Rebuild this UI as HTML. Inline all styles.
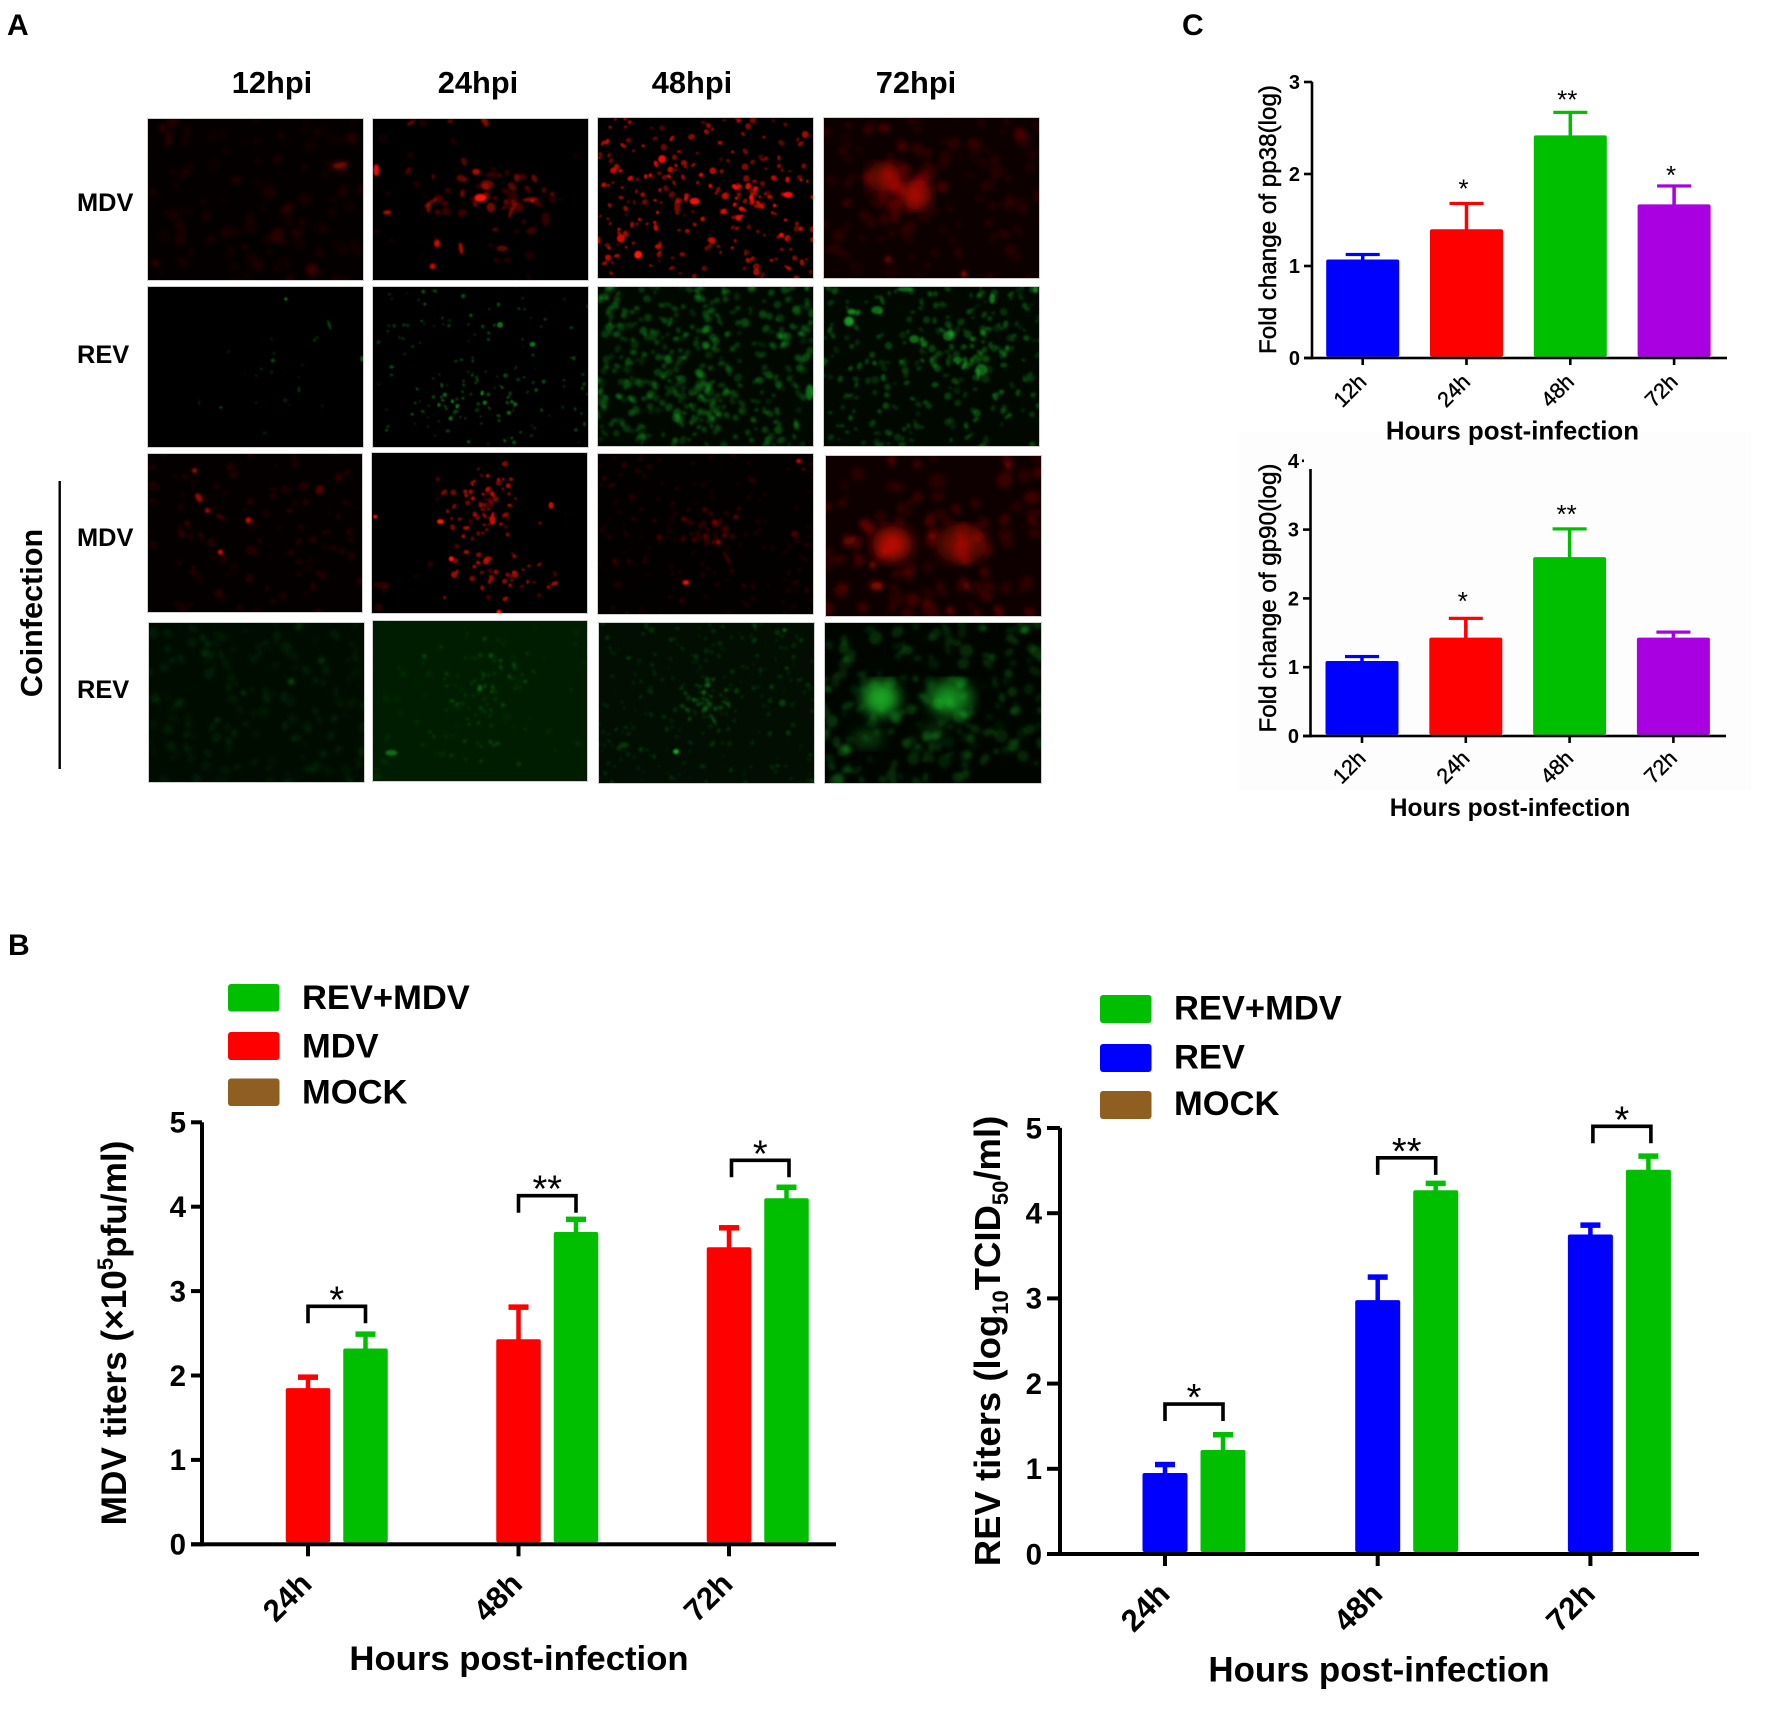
<!DOCTYPE html>
<html lang="en">
<head>
<meta charset="utf-8">
<title>Figure: MDV and REV coinfection</title>
<style>
html,body{margin:0;padding:0;background:#fff;}
svg{display:block;font-family:"Liberation Sans",sans-serif;}
</style>
</head>
<body>
<svg id="fig" xmlns="http://www.w3.org/2000/svg" width="1772" height="1727" viewBox="0 0 1772 1727">
  <rect width="1772" height="1727" fill="#fff"/>
  <rect x="1237" y="432" width="514" height="358" fill="#fdfdfd"/>

  <text x="7" y="35" font-size="30" font-weight="700">A</text>
  <text x="8" y="955" font-size="30" font-weight="700">B</text>
  <text x="1182" y="35" font-size="30" font-weight="700">C</text>

  <g id="micro"></g>

  <text x="272" y="93" font-size="30.8" font-weight="700" text-anchor="middle">12hpi</text>
  <text x="478" y="93" font-size="30.8" font-weight="700" text-anchor="middle">24hpi</text>
  <text x="692" y="93" font-size="30.8" font-weight="700" text-anchor="middle">48hpi</text>
  <text x="916" y="93" font-size="30.8" font-weight="700" text-anchor="middle">72hpi</text>
  <text x="77" y="211" font-size="25.4" font-weight="700">MDV</text>
  <text x="77" y="363" font-size="25.4" font-weight="700">REV</text>
  <text x="77" y="546" font-size="25.4" font-weight="700">MDV</text>
  <text x="77" y="698" font-size="25.4" font-weight="700">REV</text>
  <text transform="translate(42,613) rotate(-90)" font-size="30.6" font-weight="700" text-anchor="middle">Coinfection</text>
  <rect x="58.5" y="481" width="2.4" height="288" fill="#000"/>

  <g id="chart-mdv"></g>
  <g id="chart-rev"></g>
  <g id="chart-pp38"></g>
  <g id="chart-gp90"></g>

  <!-- B left legend and titles -->
  <g>
    <rect x="228" y="984" width="51.5" height="27.5" rx="3" fill="#00bf00"/>
    <text x="302" y="1009" font-size="34.5" font-weight="700">REV+MDV</text>
    <rect x="228" y="1032" width="51.5" height="28" rx="3" fill="#ff0000"/>
    <text x="302" y="1057.5" font-size="34.5" font-weight="700">MDV</text>
    <rect x="228" y="1078.5" width="51.5" height="27.5" rx="3" fill="#8e5f20"/>
    <text x="302" y="1103.5" font-size="34.5" font-weight="700">MOCK</text>
  </g>
  <text transform="translate(126,1333) rotate(-90)" font-size="35.2" font-weight="700" text-anchor="middle">MDV titers (×10<tspan font-size="22" dy="-13">5</tspan><tspan dy="13">pfu/ml)</tspan></text>
  <text x="519" y="1670" font-size="34.7" font-weight="700" text-anchor="middle">Hours post-infection</text>

  <!-- B right legend and titles -->
  <g>
    <rect x="1100" y="995" width="51.5" height="28" rx="3" fill="#00bf00"/>
    <text x="1174" y="1019.7" font-size="34.5" font-weight="700">REV+MDV</text>
    <rect x="1100" y="1044" width="51.5" height="28" rx="3" fill="#0000ff"/>
    <text x="1174" y="1068.6" font-size="34.5" font-weight="700">REV</text>
    <rect x="1100" y="1091" width="51.5" height="28" rx="3" fill="#8e5f20"/>
    <text x="1174" y="1115" font-size="34.5" font-weight="700">MOCK</text>
  </g>
  <text transform="translate(1000,1341) rotate(-90)" font-size="36.5" font-weight="700" text-anchor="middle">REV titers (log<tspan font-size="22" dy="8">10</tspan><tspan dy="-8">TCID</tspan><tspan font-size="22" dy="8">50</tspan><tspan dy="-8">/ml)</tspan></text>
  <text x="1379" y="1681.6" font-size="34.9" font-weight="700" text-anchor="middle">Hours post-infection</text>

  <!-- C titles -->
  <text transform="translate(1276,219.5) rotate(-90)" font-size="24.2" text-anchor="middle" stroke="#000" stroke-width="0.5">Fold change of pp38(log)</text>
  <text x="1512.5" y="439.5" font-size="25.9" font-weight="700" text-anchor="middle">Hours post-infection</text>
  <text transform="translate(1276,598) rotate(-90)" font-size="24.2" text-anchor="middle" stroke="#000" stroke-width="0.5">Fold change of gp90(log)</text>
  <text x="1510" y="816" font-size="24.6" font-weight="700" text-anchor="middle">Hours post-infection</text>
</svg>

<script>
/* ---------- chart data ---------- */
const titerCategories = ['24h', '48h', '72h'];
const mdvSingleValues = [1.85, 2.43, 3.52];
const mdvSingleHigh = [1.98, 2.81, 3.75];
const mdvCoinfValues = [2.32, 3.70, 4.10];
const mdvCoinfHigh = [2.49, 3.85, 4.23];
const mdvSigLabels = ['*', '**', '*'];
const mdvBracketLevels = [2.82, 4.13, 4.55];
const mdvTicks = [0, 1, 2, 3, 4, 5];

const revSingleValues = [0.95, 2.98, 3.75];
const revSingleHigh = [1.05, 3.25, 3.86];
const revCoinfValues = [1.22, 4.27, 4.51];
const revCoinfHigh = [1.40, 4.35, 4.67];
const revSigLabels = ['*', '**', '*'];
const revBracketLevels = [1.76, 4.65, 5.02];
const revTicks = [0, 1, 2, 3, 4, 5];

const foldCategories = ['12h', '24h', '48h', '72h'];
const pp38Values = [1.07, 1.40, 2.42, 1.67];
const pp38High = [1.125, 1.68, 2.67, 1.87];
const pp38SigLabels = ['', '*', '**', '*'];
const pp38SigLevels = [0, 1.90, 2.87, 2.05];
const pp38Ticks = [0, 1, 2, 3];

const gp90Values = [1.09, 1.43, 2.60, 1.43];
const gp90High = [1.155, 1.71, 3.01, 1.51];
const gp90SigLabels = ['', '*', '**', ''];
const gp90SigLevels = [0, 2.04, 3.31, 0];
const gp90Ticks = [0, 1, 2, 3, 4];

/* ---------- helpers ---------- */
const NS = 'http://www.w3.org/2000/svg';
function mk(tag, attrs, parent) {
  const el = document.createElementNS(NS, tag);
  for (const k in attrs) el.setAttribute(k, attrs[k]);
  parent.appendChild(el);
  return el;
}
function yAxisScale(frame) {
  return v => frame.y0 - v * frame.unit;
}
function xAxisScale(frame) {
  return i => frame.x0 + i * frame.step;
}
function drawAxes(g, frame, ticks, cats) {
  const y = yAxisScale(frame), x = xAxisScale(frame);
  const yAxis = mk('rect', {x: frame.axisX - frame.lw / 2, y: frame.axisTop, width: frame.lw, height: frame.y0 - frame.axisTop + frame.lw / 2, fill: '#000'}, g);
  
  
  const xAxis = mk('rect', {x: frame.tickLeft, y: frame.y0 - frame.lw / 2, width: frame.axisEnd - frame.tickLeft, height: frame.lw, fill: '#000'}, g);
  
  
  ticks.forEach(t => {
    const ty = y(t);
    const clipped = ty < frame.axisTop - 1;
    const tick = mk('rect', {x: clipped ? frame.tickLeft - 1 : frame.tickLeft, y: ty - frame.lw / 2, width: clipped ? 2 : frame.axisX - frame.tickLeft, height: frame.lw, fill: '#000'}, g);
    
    
    const lab = mk('text', {x: frame.tickLeft - frame.tickGap, y: ty + frame.tickFont * 0.35, 'font-size': frame.tickFont, 'font-weight': 700, 'text-anchor': 'end'}, g);
    lab.textContent = t;
    
    
  });
  cats.forEach((c, i) => {
    const tx = x(i);
    const tick = mk('rect', {x: tx - frame.lw / 2, y: frame.y0, width: frame.lw, height: frame.tickDown, fill: '#000'}, g);
    
    
    const cx = tx + frame.catDx, cy = frame.y0 + frame.catDy;
    const lab = mk('text', {x: cx, y: cy + frame.catFont * 0.35, 'font-size': frame.catFont, 'font-weight': frame.catWeight, 'text-anchor': 'middle', stroke: '#000', 'stroke-width': frame.catStroke, transform: 'rotate(-45 ' + cx + ' ' + cy + ')'}, g);
    lab.textContent = c;
    
    
  });
}
function drawBar(g, frame, cx, value, high, color, label) {
  const y = yAxisScale(frame);
  const stem = mk('rect', {x: cx - frame.stem / 2, y: y(high), width: frame.stem, height: y(value) - y(high) + 1, fill: color}, g);
  
  
  const cap = mk('rect', {x: cx - frame.capW / 2, y: y(high) - frame.capH / 2, width: frame.capW, height: frame.capH, fill: color}, g);
  
  
  const bar = mk('rect', {x: cx - frame.barW / 2, y: y(value), width: frame.barW, height: frame.y0 - y(value) - frame.lw / 2, rx: 2, fill: color}, g);
  
  
}
function drawGrouped(id, frame, ticks, cats, sVals, sHigh, sColor, sName, cVals, cHigh, sig, levels) {
  const g = document.getElementById(id);
  const x = xAxisScale(frame), y = yAxisScale(frame);
  cats.forEach((c, i) => {
    drawBar(g, frame, x(i), sVals[i], sHigh[i], sColor, sName + '-' + c);
    drawBar(g, frame, x(i) + frame.offset, cVals[i], cHigh[i], '#00bf00', 'coinfection-' + c);
    const shift = i === cats.length - 1 ? 2.5 : 0;
    const top = y(levels[i]), l = x(i) + shift, r = x(i) + frame.offset + shift;
    const br = mk('path', {d: 'M' + l + ' ' + (top + 17) + 'V' + top + 'H' + r + 'V' + (top + 17), fill: 'none', stroke: '#000', 'stroke-width': 3.6}, g);
    
    
    const st = mk('text', {x: (l + r) / 2, y: top + 6, 'font-size': 38, 'text-anchor': 'middle'}, g);
    st.textContent = sig[i];
    
    
  });
  drawAxes(g, frame, ticks, cats);
}
function drawFold(id, frame, ticks, cats, vals, high, colors, sig, levels) {
  const g = document.getElementById(id);
  const x = xAxisScale(frame), y = yAxisScale(frame);
  cats.forEach((c, i) => {
    drawBar(g, frame, x(i), vals[i], high[i], colors[i], c);
    if (sig[i]) {
      const st = mk('text', {x: x(i) - 3, y: y(levels[i]) + 14.5, 'font-size': 26, 'text-anchor': 'middle'}, g);
      st.textContent = sig[i];
      
      
    }
  });
  drawAxes(g, frame, ticks, cats);
}

const bigStyle = {stem: 4.5, capW: 20, capH: 5.5, lw: 4, tickGap: 5, tickFont: 29.5, tickDown: 12, catFont: 31, catWeight: 700, catStroke: 0};
drawGrouped('chart-mdv', Object.assign({x0: 308, step: 210.5, offset: 57.5, barW: 44.5, axisX: 202, y0: 1544.3, unit: 84.4, axisTop: 1122.3, tickLeft: 191, axisEnd: 836, catDx: -21, catDy: 52.7}, bigStyle),
  mdvTicks, titerCategories, mdvSingleValues, mdvSingleHigh, '#ff0000', 'mdv', mdvCoinfValues, mdvCoinfHigh, mdvSigLabels, mdvBracketLevels);
drawGrouped('chart-rev', Object.assign({x0: 1165, step: 212.7, offset: 58, barW: 45, axisX: 1060, y0: 1554, unit: 85.2, axisTop: 1127.8, tickLeft: 1047, axisEnd: 1699, catDx: -20, catDy: 53}, bigStyle),
  revTicks, titerCategories, revSingleValues, revSingleHigh, '#0000ff', 'rev', revCoinfValues, revCoinfHigh, revSigLabels, revBracketLevels);

const smallStyle = {stem: 3.5, capW: 34, capH: 3.2, lw: 2.6, tickGap: 4, tickFont: 20, tickDown: 7, catFont: 21.5, catWeight: 400, catStroke: 0.4, catDx: -13, barW: 73, step: 103.8};
const foldColors = ['#0000ff', '#ff0000', '#00bf00', '#a800e0'];
drawFold('chart-pp38', Object.assign({x0: 1362.7, axisX: 1312, y0: 358, unit: 92, axisTop: 81.7, tickLeft: 1304, axisEnd: 1727, catDy: 32.5}, smallStyle),
  pp38Ticks, foldCategories, pp38Values, pp38High, foldColors, pp38SigLabels, pp38SigLevels);
drawFold('chart-gp90', Object.assign({x0: 1362, axisX: 1310.5, y0: 736, unit: 68.8, axisTop: 469, tickLeft: 1303, axisEnd: 1726, catDy: 31}, smallStyle),
  gp90Ticks, foldCategories, gp90Values, gp90High, foldColors, gp90SigLabels, gp90SigLevels);

/* ---------- fluorescence micrographs (decorative texture, not data) ---------- */
function seeded(a) {
  return function () {
    a |= 0; a = a + 0x6D2B79F5 | 0;
    let t = Math.imul(a ^ a >>> 15, 1 | a);
    t = t + Math.imul(t ^ t >>> 7, 61 | t) ^ t;
    return ((t ^ t >>> 14) >>> 0) / 4294967296;
  };
}
const RED = '#ff1208', GREEN = '#24e034';
/* layers: [count, cx, cy, sx, sy, radius, alpha]; cx null = uniform. spots: [fx, fy, rx, ry, rot, alpha]. rx >= 9 goes to the soft glow group */
const micrographs = [
 {n:'mdv-12hpi', x:147, y:118, w:217, h:163, c:RED, bg:'#040000', b:2,
  layers:[[110,null,0,0,0,5,.075]],
  spots:[[.89,.29,8,3,-10,.5],[.1,.13,3,8,10,.16],[.07,.06,2.5,2.5,0,.25],[.76,.93,6,6,0,.22],[.42,.38,3,3,0,.14],[.65,.55,7,4,-25,.14],[.6,.72,6,8,30,.15],[.45,.79,2,2,0,.25],[.04,.89,4,3,0,.2]]},
 {n:'mdv-24hpi', x:372, y:118, w:217, h:163, c:RED, bg:'#000', b:1,
  layers:[[40,.55,.47,.2,.12,4,.36],[25,null,0,0,0,3.5,.12]],
  spots:[[.02,.32,3,6,0,.9],[.5,.49,6,4,0,1],[.48,.33,4,3,0,.7],[.07,.58,4,2,0,.75],[.3,.77,3,4,0,.8],[.41,.8,2,6,-10,.7],[.28,.91,3,3,0,.8],[.6,.8,6,3,0,.35],[.55,.35,6,3,0,.2],[.73,.5,8,2,-5,.55],[.74,.51,1.5,1.5,0,1],[.53,.41,7,5,0,.35],[.52,.02,3,6,-30,.5],[.18,.03,5,2,-30,.35],[.36,.02,3,2,0,.35],[.27,.52,8,2,-35,.4],[.26,.55,2,5,0,.5],[.64,.58,2,6,20,.4],[.8,.62,4,7,0,.2]]},
 {n:'mdv-48hpi', x:597, y:117, w:217, h:162, c:RED, bg:'#000', b:.8,
  layers:[[190,null,0,0,0,2.5,.62],[40,.7,.5,.12,.08,2.4,.8],[25,.3,.45,.16,.12,2.4,.75]],
  spots:[[.19,.85,4,4,0,1],[.45,.52,5,3.5,0,.95],[.3,.26,4,4,0,.9],[.88,.48,5,3,0,.95],[.11,.75,4,4,0,.8],[.37,.55,3,9,0,.45],[.85,.73,2.5,2.5,0,.95]]},
 {n:'mdv-72hpi', x:823, y:117, w:217, h:162, c:RED, bg:'#0c0000', b:2.2,
  layers:[[120,null,0,0,0,5.5,.1],[30,.36,.42,.12,.14,7,.14]],
  spots:[[.28,.37,17,15,0,.38],[.43,.48,16,15,0,.48],[.3,.38,9,8,0,.22],[.43,.49,9,8,0,.28],[.65,.97,2.5,3,0,.75],[.3,.88,4,4,0,.32],[.28,.07,6,5,0,.2],[.11,.53,5,4,0,.18]]},

 {n:'rev-12hpi', x:147, y:286, w:217, h:162, c:GREEN, bg:'#000', b:.8,
  layers:[[16,.62,.45,.2,.25,1.5,.14]],
  spots:[[.64,.08,1.6,1.6,0,.5],[.84,.24,1.5,5,-20,.28],[.58,.46,2,2,0,.3],[.99,.45,1.5,3,0,.4],[.34,.75,1.2,1.2,0,.45],[.7,.64,1.5,3,0,.2],[.24,.72,1,3,0,.14]]},
 {n:'rev-24hpi', x:372, y:286, w:217, h:162, c:GREEN, bg:'#000', b:.7,
  layers:[[120,null,0,0,0,1.6,.3],[45,.52,.72,.2,.13,1.7,.38]],
  spots:[[.59,.24,3,3,0,.5],[.74,.36,3,2.5,0,.5],[.52,.72,2.2,2.2,0,.5],[.66,.73,2.2,2.2,0,.4],[.09,.5,2.5,1.5,0,.35]]},
 {n:'rev-48hpi', x:597, y:286, w:217, h:161, c:GREEN, bg:'#000800', b:1.3,
  layers:[[400,null,0,0,0,3.3,.24],[45,.5,.72,.16,.1,3.2,.26]],
  spots:[[.98,.66,4,8,0,.45],[.33,.46,4,4,0,.35],[.09,.3,4,3,0,.3],[.36,.96,3,3,0,.35]]},
 {n:'rev-72hpi', x:823, y:286, w:217, h:161, c:GREEN, bg:'#000800', b:1.1,
  layers:[[250,null,0,0,0,3,.24],[45,.65,.42,.18,.16,3.2,.3]],
  spots:[[.12,.22,5,5,0,.6],[.13,.16,4,3,0,.55],[.25,.15,6,4,0,.45],[.42,.33,5,4,0,.45],[.58,.31,6,5,0,.42],[.62,.46,5,3,0,.42],[.73,.52,6,6,0,.42],[.78,.08,3,5,0,.5],[.38,.02,8,2.5,0,.45],[.98,.02,2.5,4,0,.55]]},

 {n:'coinfection-mdv-12hpi', x:147, y:453, w:216, h:160, c:RED, bg:'#040000', b:1.4,
  layers:[[100,null,0,0,0,3.6,.1]],
  spots:[[.24,.28,3,5,-30,.6],[.28,.36,2.5,2.5,0,.7],[.47,.42,3,3,0,.8],[.34,.62,2.5,2.5,0,.95],[.22,.11,2.5,2.5,0,.65],[.8,.23,4,5,30,.3],[.66,.36,3,2,0,.18],[.34,.4,5,2,30,.25],[.25,.52,1.5,5,-20,.18]]},
 {n:'coinfection-mdv-24hpi', x:371, y:452, w:217, h:162, c:RED, bg:'#010000', b:.8,
  layers:[[75,.53,.34,.15,.16,2.3,.58],[35,.6,.76,.18,.1,2.5,.55],[8,null,0,0,0,3,.12]],
  spots:[[.02,.4,2,2,0,.9],[.32,.43,3.5,2.5,0,1],[.37,.66,2.5,2.5,0,1],[.54,.66,4,2.5,0,.6],[.05,.82,8,3.5,0,.15],[.59,.99,2.5,2.5,0,1],[.56,.42,3,5,0,.8],[.83,.33,2.5,3.5,0,.8]]},
 {n:'coinfection-mdv-48hpi', x:597, y:453, w:217, h:162, c:RED, bg:'#030000', b:1.2,
  layers:[[170,null,0,0,0,2.4,.13],[40,.5,.47,.13,.08,2.6,.25]],
  spots:[[.41,.8,3.5,2.5,0,1],[.93,.05,2.5,2,0,.9],[.95,.1,1.5,1.2,0,.55],[.56,.55,2.5,2.5,0,.5],[.6,.65,1.5,8,-30,.28],[.91,.5,3.5,3.5,0,.28]]},
 {n:'coinfection-mdv-72hpi', x:825, y:455, w:217, h:162, c:RED, bg:'#0e0000', b:2.2,
  layers:[[110,null,0,0,0,6,.17]],
  spots:[[.31,.55,20,18,0,.5],[.31,.55,10,9,0,.55],[.63,.55,26,20,0,.32],[.63,.55,10,8,0,.28],[.24,.81,6,4,0,.45],[.22,.68,4,4,0,.32]]},

 {n:'coinfection-rev-12hpi', x:148, y:622, w:217, h:161, c:GREEN, bg:'#010c01', b:1.8,
  layers:[[160,null,0,0,0,4,.075]],
  spots:[[.66,.37,3.5,3.5,0,.25],[.8,.24,4,4,0,.13],[.44,.44,3,2.5,0,.16],[.32,.61,2.5,2.5,0,.2]]},
 {n:'coinfection-rev-24hpi', x:372, y:620, w:216, h:162, c:GREEN, bg:'#011d01', b:1.1,
  layers:[[90,.5,.45,.17,.28,2.1,.15],[40,null,0,0,0,3.5,.05]],
  spots:[[.09,.82,6,3,0,.4],[.5,.42,2.5,3.5,0,.3],[.55,.22,2.5,2.5,0,.22],[.71,.38,1.6,1.6,0,.28]]},
 {n:'coinfection-rev-48hpi', x:598, y:622, w:217, h:162, c:GREEN, bg:'#010e01', b:1.1,
  layers:[[250,null,0,0,0,2.1,.12],[40,.5,.47,.09,.08,2.2,.25]],
  spots:[[.36,.8,3,2.5,0,.75],[.86,.05,2,1.6,0,.45],[.53,.6,1.3,7,-30,.28],[.85,.5,3.5,3.5,0,.22],[.8,.4,2,2.5,0,.22],[.12,.76,5,3,0,.18]]},
 {n:'coinfection-rev-72hpi', x:824, y:622, w:218, h:162, c:GREEN, bg:'#000500', b:1.8,
  layers:[[170,null,0,0,0,5,.17],[30,.62,.6,.18,.22,4.5,.12]],
  spots:[[.26,.47,19,18,0,.62],[.26,.47,10,11,0,.35],[.58,.47,23,18,0,.48],[.57,.47,9,8,0,.4],[.92,.05,4,4,0,.35],[.2,.72,16,9,0,.25],[.5,.68,12,9,0,.18]]}
];

function gauss(r) { return (r() + r() + r() + r() - 2) / 0.816; }
const micro = document.getElementById('micro');
const defs = mk('defs', {}, micro);
micrographs.forEach((m, idx) => {
  const f = mk('filter', {id: 'blur' + idx, x: '-5%', y: '-5%', width: '110%', height: '110%'}, defs);
  mk('feGaussianBlur', {stdDeviation: m.b}, f);
  const f2 = mk('filter', {id: 'glow' + idx, x: '-5%', y: '-5%', width: '110%', height: '110%'}, defs);
  mk('feGaussianBlur', {stdDeviation: 6.5}, f2);
  const s = mk('svg', {x: m.x, y: m.y, width: m.w, height: m.h, viewBox: '0 0 ' + m.w + ' ' + m.h}, micro);
  
  
  const bg = mk('rect', {width: m.w, height: m.h, fill: m.bg}, s);
  
  
  const glow = mk('g', {filter: 'url(#glow' + idx + ')', fill: m.c}, s);
  const g = mk('g', {filter: 'url(#blur' + idx + ')', fill: m.c}, s);
  const r = seeded(1000 + idx * 77);
  m.layers.forEach(L => {
    for (let i = 0; i < L[0]; i++) {
      const fx = L[1] === null ? r() : L[1] + gauss(r) * L[3];
      const fy = L[1] === null ? r() : L[2] + gauss(r) * L[4];
      const rad = L[5] * (0.6 + r() * 0.8);
      const e = mk('ellipse', {cx: (fx * m.w).toFixed(1), cy: (fy * m.h).toFixed(1), rx: rad.toFixed(1), ry: (rad * (0.55 + r() * 0.5)).toFixed(1), transform: 'rotate(' + Math.round(r() * 180) + ' ' + (fx * m.w).toFixed(1) + ' ' + (fy * m.h).toFixed(1) + ')', opacity: (L[6] * (0.45 + r() * 0.75)).toFixed(2)}, g);
      
      
    }
  });
  m.spots.forEach(p => {
    const cx = p[0] * m.w, cy = p[1] * m.h;
    const e = mk('ellipse', {cx: cx, cy: cy, rx: p[2], ry: p[3], transform: 'rotate(' + p[4] + ' ' + cx + ' ' + cy + ')', opacity: p[5]}, p[2] >= 9 ? glow : g);
    
    
  });
  const border = mk('rect', {x: .5, y: .5, width: m.w - 1, height: m.h - 1, fill: 'none', stroke: '#cfcfcf', 'stroke-width': 1}, s);
  
  
});
</script>
</body>
</html>
